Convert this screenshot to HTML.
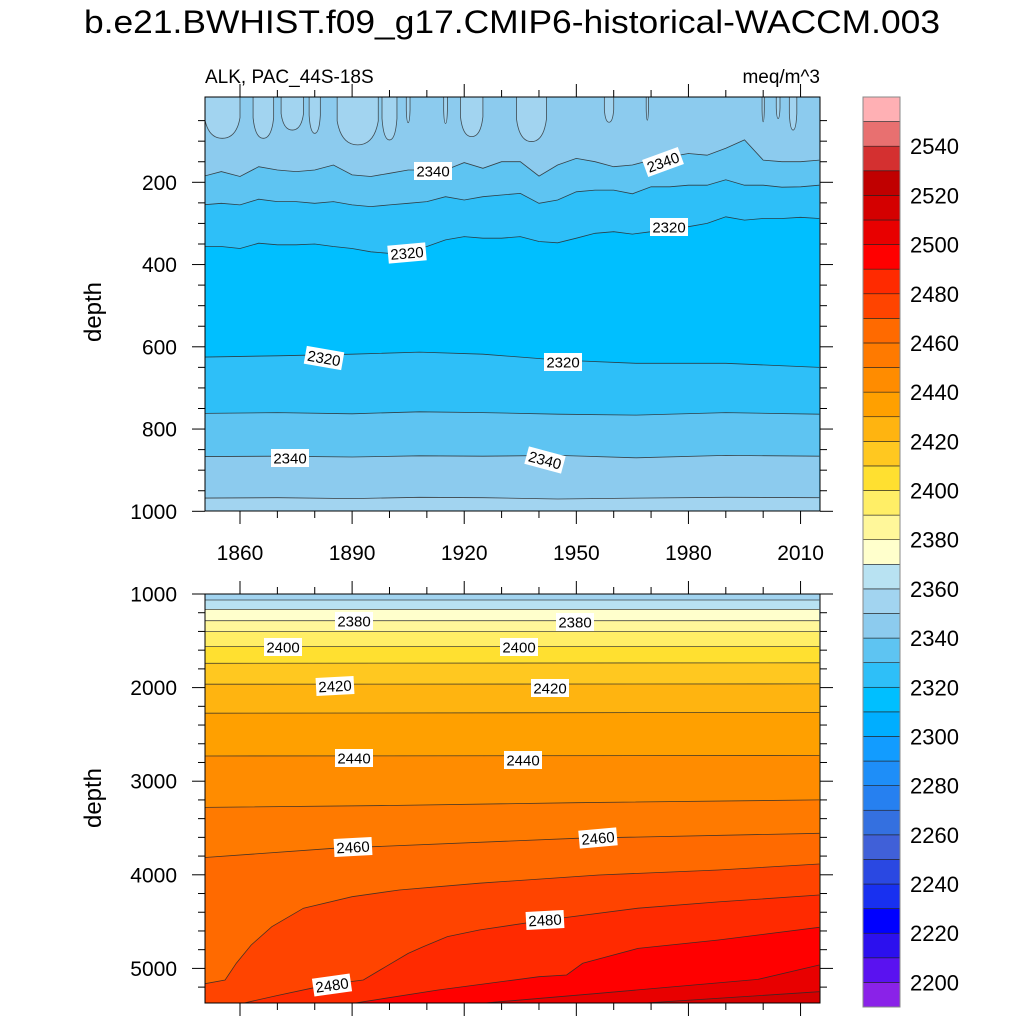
<!DOCTYPE html>
<html><head><meta charset="utf-8"><style>
html,body{margin:0;padding:0;background:#fff}
svg{display:block}
text{font-family:"Liberation Sans",sans-serif;fill:#000}
</style></head><body>
<svg id="chart" width="1024" height="1024" viewBox="0 0 1024 1024" xmlns="http://www.w3.org/2000/svg">
<text x="512" y="33" text-anchor="middle" font-size="32" textLength="856" lengthAdjust="spacingAndGlyphs">b.e21.BWHIST.f09_g17.CMIP6-historical-WACCM.003</text>
<text x="205" y="83" font-size="19">ALK, PAC_44S-18S</text>
<text x="820" y="83" font-size="19" text-anchor="end">meq/m^3</text>
<text transform="translate(101,312) rotate(-90)" font-size="24" text-anchor="middle">depth</text>
<text transform="translate(101,798) rotate(-90)" font-size="24" text-anchor="middle">depth</text>
<defs>
<clipPath id="clipTop"><rect x="205" y="97" width="615" height="414"/></clipPath>
<clipPath id="clipBot"><rect x="205" y="594" width="615" height="409"/></clipPath>
</defs>
<g id="topPanel"></g>
<g id="botPanel"></g>
<g id="colorbar"></g>
</svg>
<script>
// ---- data ----
const colorLevels = [2190,2200,2210,2220,2230,2240,2250,2260,2270,2280,2290,2300,2310,2320,2330,2340,2350,2360,2370,2380,2390,2400,2410,2420,2430,2440,2450,2460,2470,2480,2490,2500,2510,2520,2530,2540,2550];
const colors = ["#8a22e8","#5a12f0","#2c10ee","#0000ff","#1830f0","#2a48e2","#4060d8","#3470e0","#2680f0","#1e8ef8","#129cff","#00aeff","#00bfff","#2ebff8","#5ec4f2","#8ccbee","#a2d4f0","#b8e2f2","#ffffcc","#fff79a","#ffee66","#ffe030","#ffc820","#ffb410","#ffa000","#ff8c00","#ff7a00","#ff6a00","#ff4400","#ff2a00","#ff0000","#e80000","#d40000","#c00000","#d43030","#e87070","#ffb0b4"];
const cbLabels = [2200,2220,2240,2260,2280,2300,2320,2340,2360,2380,2400,2420,2440,2460,2480,2500,2520,2540];

const years5 = [1850,1855,1860,1865,1870,1875,1880,1885,1890,1895,1900,1905,1910,1915,1920,1925,1930,1935,1940,1945,1950,1955,1960,1965,1970,1975,1980,1985,1990,1995,2000,2005,2010,2015];
const d2340u = [186,174,186,162,170,174,170,158,182,186,178,170,170,170,152,166,150,150,185,158,142,150,162,158,146,138,130,134,117,97,146,150,150,146];
const d2330u = [255,251,255,241,247,247,251,247,255,259,255,251,247,235,243,235,231,227,251,243,223,219,219,228,211,211,207,207,194,207,207,212,211,207];
const d2320u = [356,356,361,348,352,352,350,356,361,369,373,365,356,340,332,336,336,332,344,347,336,324,320,326,320,316,308,300,284,292,288,288,285,288];
const yearsLow = [1850,1870,1890,1908,1925,1945,1966,1990,2015];
const d2320l = [625,622,618,613,618,632,640,640,650];
const d2330l = [762,760,763,758,760,764,766,760,764];
const d2340l = [867,866,868,865,866,864,870,864,866];
const d2350l = [968,967,969,966,967,970,968,966,967];
const bulbStart = [1850.5,1863.5,1871,1878.5,1886,1898,1904.5,1914.5,1919,1934,1957.5,1968.7,1999.7,2003.5,2007];
const bulbEnd   = [1860,1869,1877,1881.5,1897,1902,1905.5,1915.5,1925,1942,1960,1969.3,2000.3,2004.5,2009];
const bulbDepth = [93,93,73,81,109,97,55,57,89,101,54,49,53,45,73];

const botLines = [
 {lv:2360, yr:[1850,2015], d:[1064,1064]},
 {lv:2370, yr:[1850,2015], d:[1164,1164]},
 {lv:2380, yr:[1850,2015], d:[1285,1285]},
 {lv:2390, yr:[1850,2015], d:[1402,1402]},
 {lv:2400, yr:[1850,2015], d:[1562,1562]},
 {lv:2410, yr:[1850,2015], d:[1740,1735]},
 {lv:2420, yr:[1850,2015], d:[1964,1960]},
 {lv:2430, yr:[1850,2015], d:[2274,2265]},
 {lv:2440, yr:[1850,2015], d:[2731,2725]},
 {lv:2450, yr:[1850,1900,1950,2015], d:[3280,3260,3230,3200]},
 {lv:2460, yr:[1850,1885,1950,2015], d:[3817,3717,3610,3557]},
 {lv:2470, yr:[1850,1856,1859,1863,1868.5,1877,1890,1902.6,1924,1956,1988,2015], d:[5168,5124,4944,4750,4554,4357,4234,4162,4090,4002,3949,3885]},
 {lv:2480, yr:[1850,1860.5,1870,1879,1888,1893,1899,1905,1909,1915.5,1924,1942,1966.5,1988,2015], d:[5450,5375,5290,5213,5150,5124,4982,4840,4768,4660,4590,4483,4357,4290,4216]},
 {lv:2490, yr:[1850,1890,1913,1940,1947.4,1951.7,1966.5,1988,2015], d:[5450,5375,5231,5089,5071,4946,4786,4697,4561]},
 {lv:2500, yr:[1850,1924,1956,1998.6,2015], d:[5450,5375,5266,5117,4964]},
 {lv:2510, yr:[1850,1966.5,2015], d:[5450,5375,5249]}
];
const topLabels = [[433,171,"2340",0],[663,162,"2340",-20],[407,253,"2320",-5],[669,227,"2320",0],[324,358,"2320",10],[563,362,"2320",0],[290,458,"2340",0],[545,460,"2340",15]];
const botLabels = [[354,621,"2380",0],[575,622,"2380",0],[283,647,"2400",0],[519,647,"2400",0],[335,686,"2420",-3],[550,688,"2420",0],[354,758,"2440",0],[523,760,"2440",0],[353,847,"2460",-3],[598,838,"2460",-5],[332,985,"2480",-8],[545,920,"2480",-3]];
const xTickYears = [1860,1890,1920,1950,1980,2010];

// ---- helpers ----
const NS="http://www.w3.org/2000/svg";
function mk(tag,attrs,parent){const e=document.createElementNS(NS,tag);for(const k in attrs)e.setAttribute(k,attrs[k]);parent.appendChild(e);return e;}
const xs = yr => 240 + (yr-1860)*3.737;
const ysTop = d => 182.3 + (d-200)*0.41125;
const ysBot = d => 594 + (d-1000)*0.0936;
const colorOf = lv => colors[colorLevels.indexOf(lv)];
function linePts(yr,d,ys){return yr.map((y,i)=>[xs(y),ys(d[i])]);}
function ptsStr(p){return p.map(q=>q[0].toFixed(1)+","+q[1].toFixed(1)).join(" L");}
function fillBelow(g,yr,d,ys,col,bottom,name){
  const p=linePts(yr,d,ys);
  const path="M"+ptsStr(p)+" L"+p[p.length-1][0]+","+bottom+" L"+p[0][0]+","+bottom+" Z";
  const e=mk("path",{d:path,fill:col,stroke:"none"},g);
  
  
}
function strokeLine(g,yr,d,ys,name){
  const e=mk("path",{d:"M"+ptsStr(linePts(yr,d,ys)),fill:"none",stroke:"#2a2a2a","stroke-width":"0.8","stroke-opacity":"0.85"},g);
  
  
}
function label(g,x,y,t,rot){
  const lg=mk("g",{transform:"translate("+x+","+y+") rotate("+rot+")"},g);
  
  
  mk("rect",{x:-19,y:-9,width:38,height:18,fill:"#fff"},lg);
  const tx=mk("text",{x:0,y:5.5,"font-size":"15","text-anchor":"middle"},lg);
  tx.textContent=t;
}
function tick(g,x1,y1,x2,y2){mk("line",{x1:x1,y1:y1,x2:x2,y2:y2,stroke:"#000","stroke-width":"1"},g);}

// ---- top panel ----
const tp=document.getElementById("topPanel");
const tc=mk("g",{"clip-path":"url(#clipTop)"},tp);
mk("rect",{x:205,y:97,width:615,height:414,fill:colorOf(2340)},tc);
for(let i=0;i<bulbStart.length;i++){
  const x1=xs(bulbStart[i]),x2=xs(bulbEnd[i]),yb=ysTop(bulbDepth[i]),w=x2-x1;
  const dpath="M"+x1+",90 L"+x1+","+(97+(yb-97)*0.5)+" Q"+(x1+w*0.1)+","+yb+" "+(x1+w/2)+","+yb+" Q"+(x2-w*0.1)+","+yb+" "+x2+","+(97+(yb-97)*0.5)+" L"+x2+",90 Z";
  const b=mk("path",{d:dpath,fill:colorOf(2350),stroke:"#2a2a2a","stroke-width":"0.8","stroke-opacity":"0.8"},tc);
  
  
}
fillBelow(tc,years5,d2340u,ysTop,colorOf(2330),520,"band-2330-upper");
fillBelow(tc,years5,d2330u,ysTop,colorOf(2320),520,"band-2320-upper");
fillBelow(tc,years5,d2320u,ysTop,colorOf(2310),520,"band-2310");
fillBelow(tc,yearsLow,d2320l,ysTop,colorOf(2320),520,"band-2320-lower");
fillBelow(tc,yearsLow,d2330l,ysTop,colorOf(2330),520,"band-2330-lower");
fillBelow(tc,yearsLow,d2340l,ysTop,colorOf(2340),520,"band-2340-lower");
fillBelow(tc,yearsLow,d2350l,ysTop,colorOf(2350),520,"band-2350-lower");
strokeLine(tc,years5,d2340u,ysTop,"contour-2340-upper");
strokeLine(tc,years5,d2330u,ysTop,"contour-2330-upper");
strokeLine(tc,years5,d2320u,ysTop,"contour-2320-upper");
strokeLine(tc,yearsLow,d2320l,ysTop,"contour-2320-lower");
strokeLine(tc,yearsLow,d2330l,ysTop,"contour-2330-lower");
strokeLine(tc,yearsLow,d2340l,ysTop,"contour-2340-lower");
strokeLine(tc,yearsLow,d2350l,ysTop,"contour-2350-lower");
topLabels.forEach(l=>label(tp,l[0],l[1],l[2],l[3]));
mk("rect",{x:205,y:97,width:615,height:414,fill:"none",stroke:"#000","stroke-width":"1"},tp);

// ---- bottom panel ----
const bp=document.getElementById("botPanel");
const bc=mk("g",{"clip-path":"url(#clipBot)"},bp);
mk("rect",{x:205,y:594,width:615,height:409,fill:colorOf(2350)},bc);
botLines.forEach(L=>fillBelow(bc,L.yr,L.d,ysBot,colorOf(L.lv),1010,"band-"+L.lv));
botLines.forEach(L=>strokeLine(bc,L.yr,L.d,ysBot,"contour-"+L.lv));
botLabels.forEach(l=>label(bp,l[0],l[1],l[2],l[3]));
mk("rect",{x:205,y:594,width:615,height:409,fill:"none",stroke:"#000","stroke-width":"1"},bp);

// ---- axes ----
const ax=mk("g",{},document.getElementById("chart"));


for(let yr=1860;yr<=2010;yr+=10){
  const x=xs(yr), L=(yr-1860)%30===0?13:7;
  tick(ax,x,97,x,97-L); tick(ax,x,511,x,511+L);
  tick(ax,x,594,x,594-L); tick(ax,x,1003,x,1003+L);
}
xTickYears.forEach(yr=>{const t=mk("text",{x:xs(yr),y:560,"font-size":"21","text-anchor":"middle"},ax);t.textContent=yr;
  
  });
for(let d=50;d<=1000;d+=50){
  const y=ysTop(d),L=d%200===0?13:7;
  tick(ax,205,y,205-L,y); tick(ax,820,y,820+L,y);
  if(d%200===0){const t=mk("text",{x:177,y:y+7.5,"font-size":"21","text-anchor":"end"},ax);t.textContent=d;
    
    }
}
for(let d=1000;d<=5200;d+=200){
  const y=ysBot(d),L=d%1000===0?13:7;
  tick(ax,205,y,205-L,y); tick(ax,820,y,820+L,y);
  if(d%1000===0){const t=mk("text",{x:177,y:y+7.5,"font-size":"21","text-anchor":"end"},ax);t.textContent=d;
    
    }
}

// ---- colorbar ----
const cb=document.getElementById("colorbar");
const cbTop=97, cbBot=1007, n=colors.length, bh=(cbBot-cbTop)/n;
colors.forEach((c,i)=>{
  const r=mk("rect",{x:863,y:cbBot-(i+1)*bh,width:37,height:bh,fill:c,stroke:"#222","stroke-width":"0.6"},cb);
  
  
});
mk("rect",{x:863,y:cbTop,width:37,height:cbBot-cbTop,fill:"none",stroke:"#888","stroke-width":"1"},cb);
cbLabels.forEach(v=>{
  const i=colorLevels.indexOf(v);
  const y=cbBot-i*bh;
  const t=mk("text",{x:910,y:y+8,"font-size":"22"},cb);t.textContent=v;
  
  
});
</script>
</body></html>
